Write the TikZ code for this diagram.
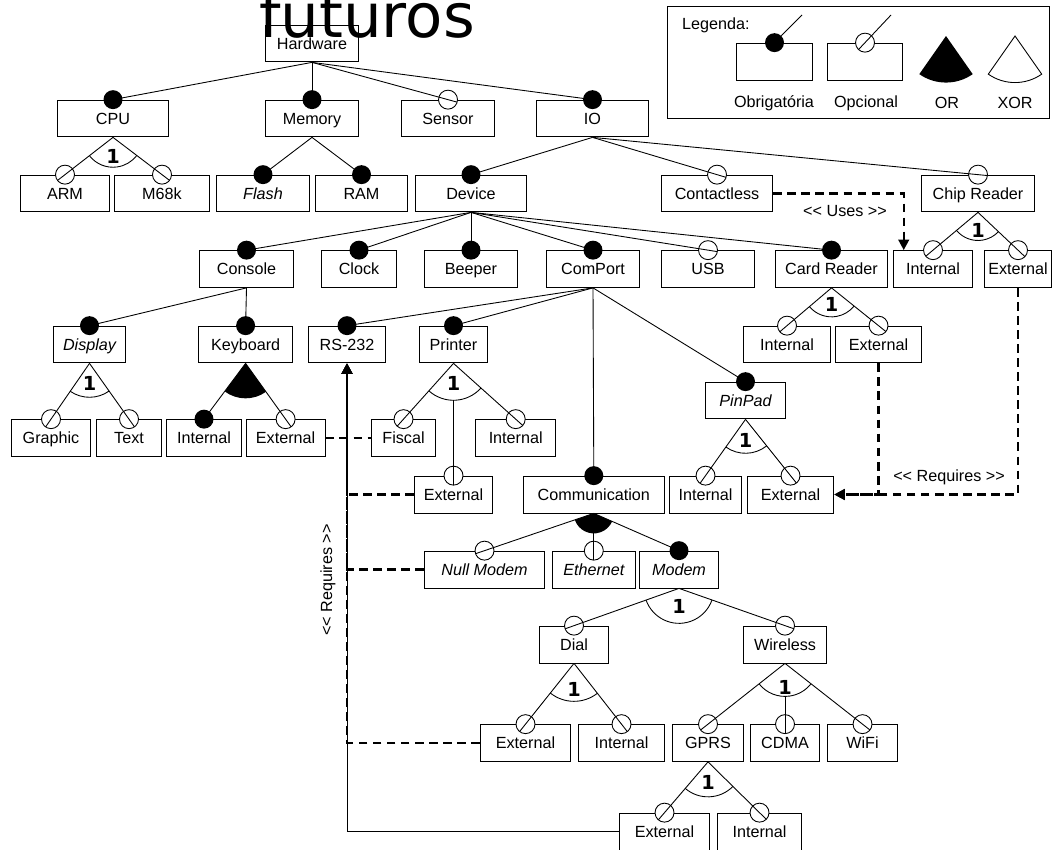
\documentclass[tikz,border=0pt]{standalone}
\usepackage{fontspec}
\setmainfont{Liberation Sans}
\newfontfamily\dejavu{DejaVu Sans}
\usetikzlibrary{calc,arrows.meta}

\def\pxu{0.5669pt}
\tikzset{
  feat/.style={draw, fill=white, line width=0.5pt, inner sep=0pt,
    minimum height=37*\pxu, minimum width=#1*\pxu,
    text height=6.8pt, text depth=0pt,
    font=\fontsize{9.2}{11}\selectfont},
  featit/.style={feat=#1, font=\fontsize{9.2}{11}\selectfont\itshape},
  lbl/.style={font=\fontsize{9.2}{11}\selectfont},
  link/.style={line width=0.5pt},
  dep/.style={line width=1.4pt, dash pattern=on 5pt off 3pt},
  deptip/.style={-{Triangle[length=6pt,width=6pt]}},
  grp/.style={font=\dejavu\bfseries\fontsize{11}{13}\selectfont, inner sep=0pt},
}

% mandatory child: line ends in a black dot
\newcommand{\featmand}[2]{%
  \draw[link] (#1.south) -- (#2.north);
  \fill (#2.north) circle[radius=5.4pt];}
% optional child: open circle, line runs through it
\newcommand{\featopt}[2]{%
  \draw[link, fill=white] (#2.north) circle[radius=5.4pt];
  \draw[link] (#1.south) -- ($(#2.north)!-5.4pt!(#1.south)$);}
% optional child in the middle of a group: line starts at the arc
\newcommand{\featoptmid}[3]{%
  \draw[link, fill=white] (#2.north) circle[radius=5.4pt];
  \draw[link] ($(#1.south)!#3!(#2.north)$) -- ($(#2.north)!-5.4pt!(#1.south)$);}
% xor group: arc between first and last child, with "1"
\newcommand{\featxor}[5]{%
  \draw[link] let \p1=($(#2.north)-(#1.south)$), \p2=($(#3.north)-(#1.south)$),
    \n1={atan2(\y1,\x1)}, \n2={atan2(\y2,\x2)} in
    ($(#1.south)+(\n1:#4)$) arc[start angle=\n1, end angle=\n2, radius=#4];
  \node[grp] (#1-one) at ($(#1.south)+(0,#5)$) {1};}
% or group: filled sector
\newcommand{\feator}[4]{%
  \fill let \p1=($(#2.north)-(#1.south)$), \p2=($(#3.north)-(#1.south)$),
    \n1={atan2(\y1,\x1)}, \n2={atan2(\y2,\x2)} in
    (#1.south) -- ($(#1.south)+(\n1:#4)$) arc[start angle=\n1, end angle=\n2, radius=#4] -- cycle;}

\begin{document}
\begin{tikzpicture}[x=0.02cm, y=-0.02cm]
  \useasboundingbox (0,0) rectangle (1053,849);

  % Legenda
  \node[draw, line width=0.5pt, inner sep=0pt, anchor=north west,
    minimum width=384*\pxu, minimum height=112*\pxu] (legend) at (667,6) {};
  \node[lbl, anchor=west] (legtitle) at (676,25) {Legenda:};
  \node[feat=76, minimum height=38*\pxu] (legmand) at (774.5,62) {};
  \node[feat=76, minimum height=38*\pxu] (legopt) at (865,62) {};
  \coordinate (legmandtop) at (802,15);
  \coordinate (legopttop) at (891,15);
  \draw[link] (legmandtop) -- (legmand.north);
  \fill (legmand.north) circle[radius=5.4pt];
  \draw[link, fill=white] (legopt.north) circle[radius=5.4pt];
  \draw[link] (legopttop) -- ($(legopt.north)!-5.4pt!(legopttop)$);
  \coordinate (legor) at (946,36);
  \coordinate (legxor) at (1015,36);
  \fill (legor) -- ++(-125:26.5pt) arc[start angle=-125, end angle=-55, radius=26.5pt] -- cycle;
  \draw[link] (legxor) -- ++(-125:26.5pt) arc[start angle=-125, end angle=-55, radius=26.5pt] -- cycle;
  \node[lbl] (legobr) at (774,103) {Obrigatória};
  \node[lbl] (legopc) at (866,103) {Opcional};
  \node[lbl] (legortxt) at (947,103) {OR};
  \node[lbl] (legxortxt) at (1015,103) {XOR};

  % Features
  \node[feat=94] (hw) at (312,43.5) {Hardware};

  \node[feat=112] (cpu) at (113,118.5) {CPU};
  \node[feat=94] (mem) at (312,118.5) {Memory};
  \node[feat=94] (sensor) at (448,118.5) {Sensor};
  \node[feat=113] (io) at (592.5,118.5) {IO};

  \node[feat=90] (arm) at (65,193.5) {ARM};
  \node[feat=95] (m68k) at (162,193.5) {M68k};
  \node[featit=94] (flash) at (263,193.5) {Flash};
  \node[feat=93] (ram) at (361.5,193.5) {RAM};
  \node[feat=112] (device) at (471,193.5) {Device};
  \node[feat=112] (contactless) at (717,193.5) {Contactless};
  \node[feat=113] (chip) at (978,193.5) {Chip Reader};

  \node[feat=94] (console) at (246.5,269) {Console};
  \node[feat=76] (clock) at (359,269) {Clock};
  \node[feat=94] (beeper) at (471,269) {Beeper};
  \node[feat=94] (comport) at (593,269) {ComPort};
  \node[feat=94] (usb) at (708,269) {USB};
  \node[feat=113] (card) at (831.5,269) {Card Reader};
  \node[feat=80] (chipint) at (933,269) {Internal};
  \node[feat=68] (chipext) at (1018,269) {External};

  \node[featit=73] (display) at (89.5,344.5) {Display};
  \node[feat=94] (keyboard) at (245.6,344.5) {Keyboard};
  \node[feat=78] (rs) at (347,344.5) {RS-232};
  \node[feat=68] (printer) at (453.5,344.5) {Printer};
  \node[feat=87] (cardint) at (787,344.5) {Internal};
  \node[feat=87] (cardext) at (878.5,344.5) {External};
  \node[featit=81] (pinpad) at (745.5,400.5) {PinPad};

  \node[feat=80] (graphic) at (51,438) {Graphic};
  \node[feat=65] (text) at (129,438) {Text};
  \node[feat=75] (kbint) at (204,438) {Internal};
  \node[feat=79] (kbext) at (285.6,438) {External};
  \node[feat=65] (fiscal) at (403.5,438) {Fiscal};
  \node[feat=80] (prnint) at (515.7,438) {Internal};

  \node[feat=79] (prnext) at (453.5,494.5) {External};
  \node[feat=142] (comm) at (593.8,494.5) {Communication};
  \node[feat=73] (pinint) at (705.5,494.5) {Internal};
  \node[feat=87] (pinext) at (790.5,494.5) {External};

  \node[featit=121] (nullmodem) at (484.5,569.5) {Null Modem};
  \node[featit=84] (ethernet) at (593.8,569.5) {Ethernet};
  \node[featit=80] (modem) at (679,569.5) {Modem};

  \node[feat=70] (dial) at (574,644.5) {Dial};
  \node[feat=84] (wireless) at (785,644.5) {Wireless};

  \node[feat=91] (dialext) at (525.5,743) {External};
  \node[feat=87] (dialint) at (621.5,743) {Internal};
  \node[feat=72] (gprs) at (708,743) {GPRS};
  \node[feat=70] (cdma) at (785,743) {CDMA};
  \node[feat=71] (wifi) at (862.5,743) {WiFi};

  \node[feat=91] (gprsext) at (664.5,831.5) {External};
  \node[feat=85] (gprsint) at (759.5,831.5) {Internal};

  % Hardware
  \featmand{hw}{cpu} \featmand{hw}{mem} \featopt{hw}{sensor} \featmand{hw}{io}
  % CPU
  \featopt{cpu}{arm} \featopt{cpu}{m68k} \featxor{cpu}{arm}{m68k}{17pt}{19}
  % Memory
  \featmand{mem}{flash} \featmand{mem}{ram}
  % IO
  \featmand{io}{device} \featopt{io}{contactless} \featopt{io}{chip}
  % Device
  \featmand{device}{console} \featmand{device}{clock} \featmand{device}{beeper}
  \featmand{device}{comport} \featopt{device}{usb} \featmand{device}{card}
  % Chip Reader
  \featopt{chip}{chipint} \featopt{chip}{chipext} \featxor{chip}{chipint}{chipext}{16pt}{18}
  % Console
  \featmand{console}{display} \featmand{console}{keyboard}
  % ComPort
  \featmand{comport}{rs} \featmand{comport}{printer} \featmand{comport}{comm} \featmand{comport}{pinpad}
  % Card Reader
  \featopt{card}{cardint} \featopt{card}{cardext} \featxor{card}{cardint}{cardext}{16.5pt}{17}
  % Display
  \featopt{display}{graphic} \featopt{display}{text} \featxor{display}{graphic}{text}{19.3pt}{20}
  % Keyboard
  \featmand{keyboard}{kbint} \featopt{keyboard}{kbext} \feator{keyboard}{kbint}{kbext}{19.9pt}
  % Printer
  \featopt{printer}{fiscal} \featoptmid{printer}{prnext}{21pt} \featopt{printer}{prnint}
  \featxor{printer}{fiscal}{prnint}{21pt}{20}
  % PinPad
  \featopt{pinpad}{pinint} \featopt{pinpad}{pinext} \featxor{pinpad}{pinint}{pinext}{19.3pt}{21}
  % Communication
  \featopt{comm}{nullmodem} \featopt{comm}{ethernet} \featmand{comm}{modem}
  \feator{comm}{nullmodem}{modem}{11.4pt}
  % Modem
  \featopt{modem}{dial} \featopt{modem}{wireless} \featxor{modem}{dial}{wireless}{19.9pt}{18}
  % Dial
  \featopt{dial}{dialext} \featopt{dial}{dialint} \featxor{dial}{dialext}{dialint}{21.6pt}{26}
  % Wireless
  \featopt{wireless}{gprs} \featoptmid{wireless}{cdma}{18.8pt} \featopt{wireless}{wifi}
  \featxor{wireless}{gprs}{wifi}{18.8pt}{24}
  % GPRS
  \featopt{gprs}{gprsext} \featopt{gprs}{gprsint} \featxor{gprs}{gprsext}{gprsint}{19.9pt}{21}

  % Dependencias
  \draw[dep] (kbext.east) -- (fiscal.west);
  \draw[dep, deptip] (contactless.east) -| ($(chipint.north west)+(11,0)$);
  \node[lbl] (uses) at (845,211) {<{}< Uses >{}>};
  \draw[dep, deptip] (cardext.south) |- (pinext.east);
  \draw[dep, deptip] (chipext.south) |- (pinext.east);
  \node[lbl] (reqright) at (949,477) {<{}< Requires >{}>};
  \draw[link, deptip] (gprsext.west) -| (rs.south);
  \draw[dep, deptip] (dialext.west) -| (rs.south);
  \draw[dep, deptip] (nullmodem.west) -| (rs.south);
  \draw[dep, deptip] (prnext.west) -| (rs.south);
  % trecho comum, sobreposto: parece cheio
  \draw[line width=1.4pt, deptip] (prnext.west -| rs.south) -- (rs.south);
  \node[lbl, rotate=90] (reqleft) at (328,580) {<{}< Requires >{}>};

  % titulo cortado no topo
  \node[font=\dejavu\fontsize{34.7}{40}\selectfont, anchor=base, inner sep=0pt] (title) at (367,37) {futuros};
\end{tikzpicture}
\end{document}
